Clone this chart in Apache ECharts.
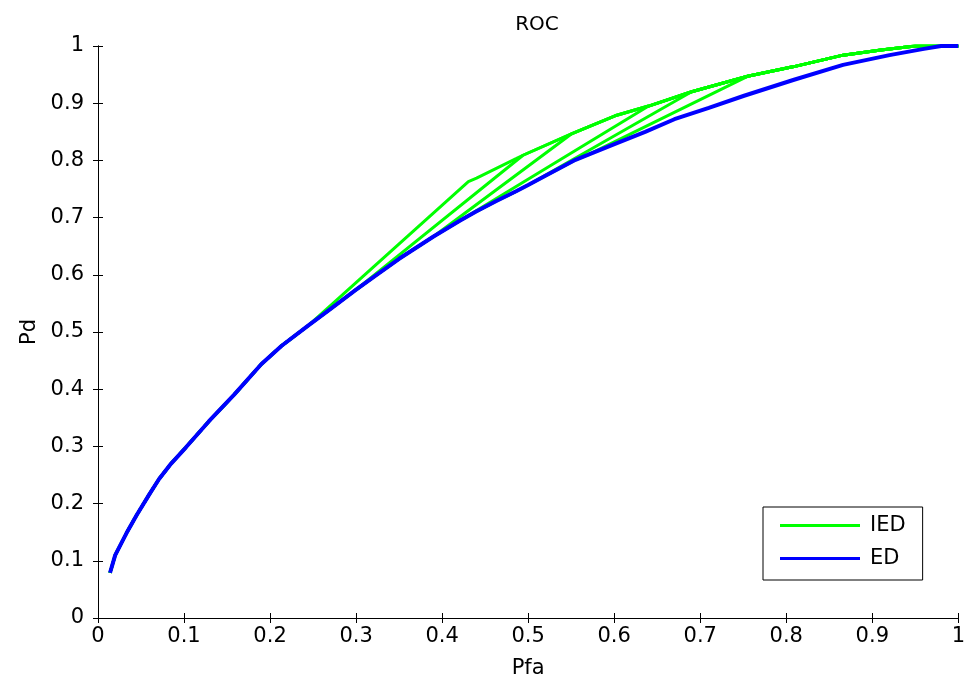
<!DOCTYPE html>
<html>
<head>
<meta charset="utf-8">
<script src="https://cdn.jsdelivr.net/npm/echarts@6/dist/echarts.min.js"></script>
<style>
html,body{margin:0;padding:0;background:#fff;}
#chart{width:968px;height:684px;}
</style>
</head>
<body>
<div id="chart"></div>
<script>
// ED curve (blue)
var edPfa = [0.014,0.02,0.033,0.045,0.06,0.071,0.085,0.102,0.129,0.158,0.19,0.2135,0.245,0.27,0.30,0.321,0.35,0.39,0.42,0.44,0.463,0.486,0.50,0.52,0.555,0.57,0.601,0.636,0.67,0.71,0.751,0.809,0.866,0.92,0.96,0.98,1.0];
var edPd  = [0.079,0.11,0.148,0.18,0.217,0.243,0.27,0.298,0.344,0.39,0.444,0.476,0.512,0.54,0.574,0.597,0.628,0.667,0.694,0.711,0.729,0.746,0.757,0.773,0.801,0.81,0.829,0.85,0.872,0.892,0.913,0.941,0.967,0.984,0.995,1.0,1.0];
// upper IED envelope
var envPfa = [0.4305,0.44,0.486,0.494,0.551,0.601,0.64,0.69,0.755,0.809,0.866,0.91,0.95,1.0];
var envPd  = [0.763,0.769,0.803,0.809,0.847,0.878,0.895,0.92,0.947,0.964,0.984,0.993,1.0,1.0];
// each IED curve leaves the ED curve at a start Pfa and joins the envelope at an end Pfa
var iedStartPfa = [0.245,0.30,0.39,0.42,0.50,0.57];
var iedEndPfa   = [0.4305,0.494,0.551,0.64,0.69,0.755];
// axis ticks
var xTicks = ['0','0.1','0.2','0.3','0.4','0.5','0.6','0.7','0.8','0.9','1'];
var yTicks = ['0','0.1','0.2','0.3','0.4','0.5','0.6','0.7','0.8','0.9','1'];

var FONT = 'DejaVu Sans';
var GREEN = '#00ff00', BLUE = '#0000ff';

function edData(){ return edPfa.map(function(x,i){ return [x, edPd[i]]; }); }
function iedCurve(k){
  var pts = [];
  for (var i=0;i<edPfa.length;i++) if (edPfa[i] <= iedStartPfa[k] + 1e-9) pts.push([edPfa[i], edPd[i]]);
  for (var j=0;j<envPfa.length;j++) if (envPfa[j] >= iedEndPfa[k] - 1e-9) pts.push([envPfa[j], envPd[j]]);
  return pts;
}

var series = [];
for (var k=0;k<iedStartPfa.length;k++){
  series.push({
    name:'IED', type:'line', data: iedCurve(k), symbol:'none', showSymbol:false,
    lineStyle:{color:GREEN, width:3}, itemStyle:{color:GREEN}, z:2, animation:false
  });
}
series.push({
  name:'ED', type:'line', data: edData(), symbol:'none', showSymbol:false,
  lineStyle:{color:BLUE, width:4}, itemStyle:{color:BLUE}, z:3, animation:false
});

function axisCommon(showLabel, labels){
  return {
    type:'value', min:0, max:1, interval:0.1,
    axisLine:{show:true, lineStyle:{color:'#000', width:1}},
    axisTick:{show:true, inside:true, length:5, lineStyle:{color:'#000'}},
    splitLine:{show:false},
    axisLabel:{show:showLabel, color:'#000', fontFamily:FONT, fontSize:21,
      formatter:function(v){ var idx=Math.round(v*10); return labels[idx]; }}
  };
}

var xBottom = axisCommon(true, xTicks);
xBottom.position='bottom';
xBottom.axisLabel.margin = 8;
xBottom.name='Pfa'; xBottom.nameLocation='middle'; xBottom.nameGap=40;
xBottom.nameTextStyle={color:'#000', fontFamily:FONT, fontSize:21};
var xTop = axisCommon(false, xTicks); xTop.position='top';

var yLeft = axisCommon(true, yTicks);
yLeft.position='left';
yLeft.axisLabel.margin = 14;
yLeft.name='Pd'; yLeft.nameLocation='middle'; yLeft.nameGap=56;
yLeft.nameTextStyle={color:'#000', fontFamily:FONT, fontSize:21};
var yRight = axisCommon(false, yTicks); yRight.position='right';

var chart = echarts.init(document.getElementById('chart'), null, {renderer:'canvas'});
chart.setOption({
  backgroundColor:'#fff',
  animation:false,
  title:{text:'ROC', left:532, top:10, textAlign:'center',
    textStyle:{color:'#000', fontFamily:FONT, fontSize:20, fontWeight:'normal'}},
  grid:{left:98, right:2, top:46, bottom:58, containLabel:false, show:true, backgroundColor:'#fff', borderWidth:0},
  legend:{
    data:[{name:'IED', icon:'rect'},{name:'ED', icon:'rect'}],
    orient:'vertical', left:763, top:507,
    padding:[8,17,11,17], itemWidth:80, itemHeight:3, itemGap:12,
    backgroundColor:'#fff', borderColor:'#000', borderWidth:1, borderRadius:0,
    textStyle:{color:'#000', fontFamily:FONT, fontSize:21, padding:[0,0,0,5]},
    selectedMode:false
  },
  xAxis:[xBottom, xTop],
  yAxis:[yLeft, yRight],
  series: series
});
</script>
</body>
</html>
